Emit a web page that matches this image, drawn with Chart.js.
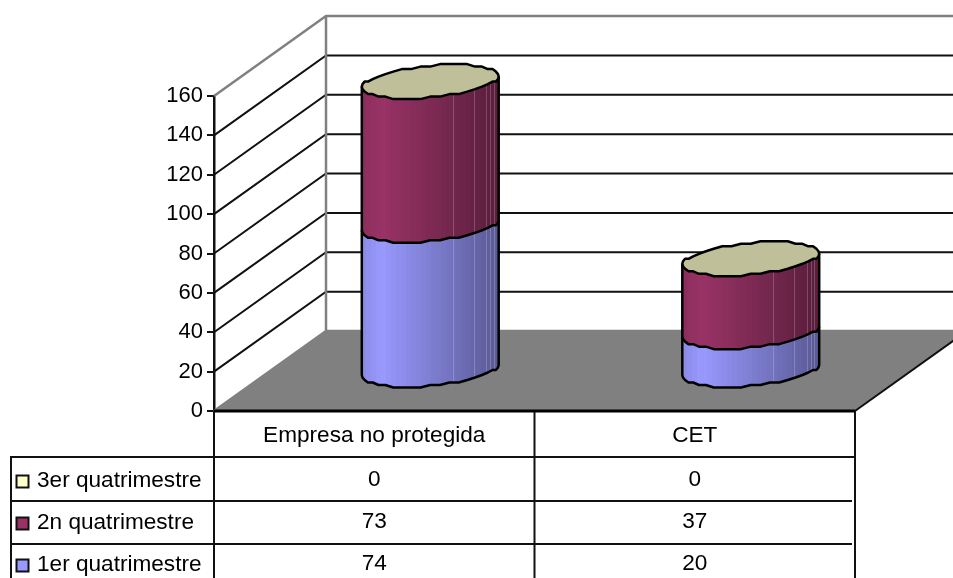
<!DOCTYPE html>
<html>
<head>
<meta charset="utf-8">
<title>Quatrimestres</title>
<script src="https://cdn.jsdelivr.net/npm/chart.js@4/dist/chart.umd.min.js"></script>
<style>
  html, body { margin: 0; padding: 0; background: #fff; }
  canvas { display: block; }
</style>
</head>
<body>
<canvas id="myChart" width="953" height="578"></canvas>
<script>
const categories = ['Empresa no protegida', 'CET'];
const seriesNames = ['1er quatrimestre', '2n quatrimestre', '3er quatrimestre'];
const values1 = [74, 20];
const values2 = [73, 37];
const values3 = [0, 0];
const seriesColors = [[153, 153, 255], [153, 51, 102], [255, 255, 204]];
const yMax = 160;
const yStep = 20;

const FONT = '"Liberation Sans", Arial, sans-serif';
const FONT_SIZE = 22;
const TABLE_FONT_SIZE = 22.6;
const DEPTH_X = 112, DEPTH_Y = -80;   // back wall offset
const ROW_LINES = [457, 501, 544];
const ROW_TEXT = [564, 522, 480];     // text centre, series 1 to 3
const TABLE_LEFT = 11;
const SEAMS = [0.664, 0.818, 0.91, 0.94, 0.965];  // light hairlines across the cylinder

function rgb(c, f) {
    return 'rgb(' + c.map(v => Math.round(v * f)).join(',') + ')';
}

// shade across the cylinder, f = 0 at left edge, 1 at right edge
function shade(f) {
    if (f < 0.14) return 0.9 + 0.1 * f / 0.14;
    return 1 - 0.42 * (f - 0.14) / 0.86;
}

const wallPlugin = {
    id: 'wall',
    beforeDatasetsDraw(chart) {
        const ctx = chart.ctx, a = chart.chartArea, y = chart.scales.y;
        const bx = a.left + DEPTH_X;
        ctx.save();
        ctx.lineCap = 'butt';

        // floor
        ctx.fillStyle = '#808080';
        ctx.beginPath();
        ctx.moveTo(a.left, a.bottom);
        ctx.lineTo(a.right, a.bottom);
        ctx.lineTo(a.right + DEPTH_X, a.bottom + DEPTH_Y);
        ctx.lineTo(bx, a.bottom + DEPTH_Y);
        ctx.closePath();
        ctx.fill();

        // grid lines on both walls
        y.ticks.forEach(t => {
            if (t.value === 0) return;
            const py = y.getPixelForValue(t.value);
            const top = t.value === yMax;
            ctx.strokeStyle = top ? '#808080' : '#111';
            ctx.lineWidth = top ? 2.5 : 2;
            ctx.beginPath();
            ctx.moveTo(a.left, py);
            ctx.lineTo(bx, py + DEPTH_Y);
            ctx.lineTo(a.right + DEPTH_X, py + DEPTH_Y);
            ctx.stroke();
        });

        // wall edges
        ctx.strokeStyle = '#808080';
        ctx.lineWidth = 2.5;
        ctx.beginPath();
        ctx.moveTo(bx, a.top + DEPTH_Y);
        ctx.lineTo(bx, a.bottom + DEPTH_Y);
        ctx.lineTo(a.right + DEPTH_X, a.bottom + DEPTH_Y);
        ctx.moveTo(a.left, a.bottom);
        ctx.lineTo(bx, a.bottom + DEPTH_Y);
        ctx.stroke();

        ctx.strokeStyle = '#111';
        ctx.lineWidth = 2;
        ctx.beginPath();
        ctx.moveTo(a.right, a.bottom);
        ctx.lineTo(a.right + DEPTH_X, a.bottom + DEPTH_Y);
        ctx.stroke();
        ctx.restore();
    }
};

const cylinderPlugin = {
    id: 'cylinder',
    afterDatasetsDraw(chart) {
        const ctx = chart.ctx;
        const dx = 24, dy = -17;
        const STEPS = 44;          // the outline of the original is slightly bumpy
        const SNAP = 2.5;
        const count = chart.data.labels.length;
        ctx.save();
        ctx.lineJoin = 'round';
        for (let c = 0; c < count; c++) {
            const last = chart.data.datasets.length - 1;
            let cap = null;
            chart.data.datasets.forEach((ds, i) => {
                const el = chart.getDatasetMeta(i).data[c];
                const w = el.width / 2;
                const cx = el.x + DEPTH_X / 2;
                const topY = el.y + DEPTH_Y / 2;
                const baseY = el.base + DEPTH_Y / 2;
                const t0 = Math.PI + Math.atan2(dx, w);
                const full = Math.hypot(w, dx);
                const px = t => cx + w * Math.cos(t) + dx * Math.sin(t);
                const py = t => Math.round(dy * Math.sin(t) / SNAP) * SNAP;
                const front = [];
                for (let k = 0; k <= STEPS / 2; k++) {
                    const t = t0 + 2 * Math.PI * k / STEPS;
                    front.push([px(t), py(t)]);
                }
                const back = [];
                for (let k = STEPS / 2; k <= STEPS; k++) {
                    const t = t0 + 2 * Math.PI * k / STEPS;
                    back.push([px(t), py(t)]);
                }
                cap = { topY, front, back };
                if (el.base === el.y) return;

                const L = cx - full, R = cx + full;

                // body: vertical strips clipped to the outline
                ctx.save();
                ctx.beginPath();
                front.forEach((p, k) => { ctx[k ? 'lineTo' : 'moveTo'](p[0], baseY + p[1]); });
                front.slice().reverse().forEach(p => { ctx.lineTo(p[0], topY + p[1]); });
                ctx.closePath();
                ctx.clip();
                const yLo = topY - 30, yHi = baseY + 30;
                for (let sx = Math.floor(L); sx < R; sx += 5) {
                    ctx.fillStyle = rgb(seriesColors[i], shade((sx + 2.5 - L) / (R - L)));
                    ctx.fillRect(sx, yLo, 5, yHi - yLo);
                }
                ctx.fillStyle = 'rgba(255,255,255,0.2)';
                SEAMS.forEach(f => {
                    ctx.fillRect(Math.round(L + f * (R - L)), yLo, 1, yHi - yLo);
                });
                ctx.restore();

                // outline: sides and bottom arc
                ctx.strokeStyle = '#000';
                ctx.lineWidth = 2.5;
                ctx.beginPath();
                ctx.moveTo(front[0][0], topY + front[0][1]);
                front.forEach(p => { ctx.lineTo(p[0], baseY + p[1]); });
                const e = front[front.length - 1];
                ctx.lineTo(e[0], topY + e[1]);
                ctx.stroke();
            });

            // cap, coloured from the top series
            ctx.fillStyle = rgb(seriesColors[last], 0.75);
            ctx.strokeStyle = '#000';
            ctx.lineWidth = 2.5;
            ctx.beginPath();
            cap.front.concat(cap.back).forEach((p, k) => {
                ctx[k ? 'lineTo' : 'moveTo'](p[0], cap.topY + p[1]);
            });
            ctx.closePath();
            ctx.fill();
            ctx.stroke();
        }
        ctx.restore();
    }
};

const tablePlugin = {
    id: 'dataTable',
    afterDraw(chart) {
        const ctx = chart.ctx, a = chart.chartArea, x = chart.scales.x;
        const H = chart.height;
        const mid = (a.left + a.right) / 2;
        ctx.save();
        ctx.strokeStyle = '#111';
        ctx.lineWidth = 2;
        ctx.beginPath();
        ROW_LINES.forEach((ry, i) => {
            ctx.moveTo(TABLE_LEFT, ry);
            ctx.lineTo(i === 0 ? a.right : a.right - 3, ry);
        });
        ctx.moveTo(TABLE_LEFT, ROW_LINES[0] - 1);
        ctx.lineTo(TABLE_LEFT, H);
        [a.left, mid, a.right].forEach(vx => {
            ctx.moveTo(vx, a.bottom);
            ctx.lineTo(vx, H);
        });
        ctx.stroke();

        // front edge of the floor
        ctx.strokeStyle = '#000';
        ctx.lineWidth = 3;
        ctx.beginPath();
        ctx.moveTo(a.left, a.bottom);
        ctx.lineTo(a.right, a.bottom);
        ctx.stroke();

        ctx.font = TABLE_FONT_SIZE + 'px ' + FONT;
        ctx.textBaseline = 'middle';
        chart.data.datasets.forEach((ds, i) => {
            const ty = ROW_TEXT[i];
            // legend key
            ctx.fillStyle = rgb(seriesColors[i], 1);
            ctx.strokeStyle = '#111';
            ctx.lineWidth = 2;
            ctx.fillRect(16.5, ty - 4.5, 12, 12);
            ctx.strokeRect(16.5, ty - 4.5, 12, 12);
            ctx.fillStyle = '#000';
            ctx.textAlign = 'left';
            ctx.fillText(ds.label, 37, ty + 1);
            ctx.textAlign = 'center';
            ds.data.forEach((v, c) => {
                ctx.fillText(String(v), x.getPixelForValue(c), ty);
            });
        });
        ctx.restore();
    }
};

const config = {
    type: 'bar',
    data: {
        labels: categories,
        datasets: [
            { label: seriesNames[0], data: values1, backgroundColor: 'transparent' },
            { label: seriesNames[1], data: values2, backgroundColor: 'transparent' },
            { label: seriesNames[2], data: values3, backgroundColor: 'transparent' }
        ]
    },
    options: {
        responsive: false,
        animation: false,
        layout: { padding: { top: 96, right: 98, left: 0, bottom: 0 } },
        plugins: { legend: { display: false }, title: { display: false }, tooltip: { enabled: false } },
        datasets: { bar: { categoryPercentage: 0.4, barPercentage: 1 } },
        scales: {
            x: {
                stacked: true,
                afterFit: s => { s.height = 167; },
                grid: { display: false },
                border: { display: false },
                ticks: { color: '#000', font: { family: FONT, size: TABLE_FONT_SIZE }, padding: 3, maxRotation: 0 }
            },
            y: {
                stacked: true,
                min: 0,
                max: yMax,
                afterFit: s => { s.width = 214; },
                grid: { drawOnChartArea: false, drawTicks: true, tickLength: 7, color: '#111', lineWidth: 2 },
                border: { display: true, color: '#111', width: 2.5 },
                ticks: { stepSize: yStep, color: '#000', font: { family: FONT, size: FONT_SIZE }, padding: 4 }
            }
        }
    },
    plugins: [wallPlugin, cylinderPlugin, tablePlugin]
};

const myChart = new Chart(document.getElementById('myChart'), config);
</script>
</body>
</html>
